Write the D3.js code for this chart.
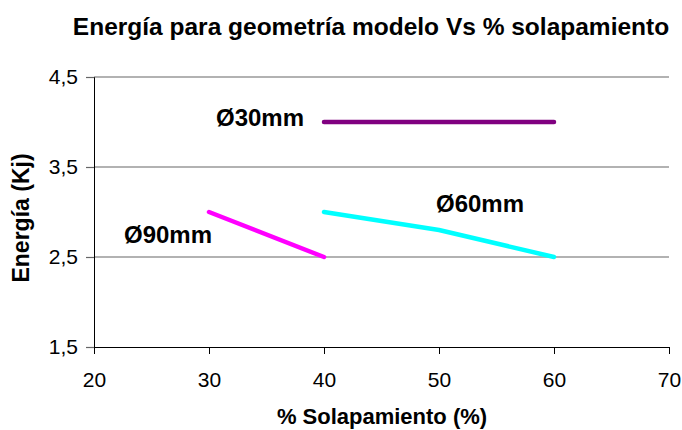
<!DOCTYPE html>
<html>
<head>
<meta charset="utf-8">
<script src="https://cdn.jsdelivr.net/npm/d3@7"></script>
<style>
  body { margin: 0; background: #fff; }
  svg { font-family: Arial, "Liberation Sans", sans-serif; }
</style>
</head>
<body>
<div id="chart"></div>
<script>
// datos
const xTicks = [20, 30, 40, 50, 60, 70];
const yTicks = [1.5, 2.5, 3.5, 4.5];

const x30 = [40, 50, 60];
const y30 = [4, 4, 4];
const x60 = [40, 50, 60];
const y60 = [3, 2.8, 2.5];
const x90 = [30, 40];
const y90 = [3, 2.5];

const series = [
  { label: 'Ø30mm', color: '#800080', xs: x30, ys: y30, lx: 216, ly: 126 },
  { label: 'Ø60mm', color: '#00ffff', xs: x60, ys: y60, lx: 436, ly: 212 },
  { label: 'Ø90mm', color: '#ff00ff', xs: x90, ys: y90, lx: 124, ly: 243 }
];

const width = 682, height = 430;
const mLeft = 94, mRight = 669, mTop = 77, mBottom = 347;
const FONT = 'Arial, "Liberation Sans", sans-serif';

const svg = d3.select('#chart').append('svg')
  .attr('width', width)
  .attr('height', height);

const x = d3.scaleLinear().domain([20, 70]).range([mLeft, mRight]);
const y = d3.scaleLinear().domain([1.5, 4.5]).range([mBottom, mTop]);

// lineas de cuadricula
svg.append('g')
  .selectAll('line')
  .data(yTicks.filter(d => d > 1.5))
  .enter()
  .append('line')
  .attr('x1', mLeft)
  .attr('x2', mRight)
  .attr('y1', d => y(d))
  .attr('y2', d => y(d))
  .attr('stroke', '#666')
  .attr('stroke-width', 1.2);

// eje Y
svg.append('g')
  .attr('transform', `translate(${mLeft},0)`)
  .call(d3.axisLeft(y).tickValues(yTicks).tickSize(8).tickPadding(8)
    .tickFormat(d => d3.format('.1f')(d).replace('.', ',')))
  .call(g => g.select('.domain').attr('stroke', '#000'))
  .call(g => g.selectAll('.tick line').attr('stroke', '#666').attr('stroke-width', 1.2))
  .call(g => g.selectAll('text').attr('font-size', 21).attr('fill', '#000').attr('font-family', FONT));

// eje X
svg.append('g')
  .attr('transform', `translate(0,${mBottom})`)
  .call(d3.axisBottom(x).tickValues(xTicks).tickSize(7).tickSizeOuter(0))
  .call(g => g.select('.domain').attr('stroke', '#000'))
  .call(g => g.selectAll('.tick line').attr('stroke', '#000'))
  .call(g => g.selectAll('text').attr('font-size', 21).attr('fill', '#000')
    .attr('y', 40).attr('dy', 0).attr('font-family', FONT));

// series
const line = d3.line().x(d => x(d[0])).y(d => y(d[1]));
series.forEach(s => {
  const pts = s.xs.map((v, i) => [v, s.ys[i]]);
  svg.append('path')
    .attr('d', line(pts))
    .attr('fill', 'none')
    .attr('stroke', s.color)
    .attr('stroke-width', 4.5)
    .attr('stroke-linecap', 'round')
    .attr('stroke-linejoin', 'round');

  svg.append('text')
    .attr('x', s.lx)
    .attr('y', s.ly)
    .attr('font-size', 24)
    .attr('font-weight', 'bold')
    .text(s.label);
});

// titulos
svg.append('text')
  .attr('x', 371)
  .attr('y', 35)
  .attr('text-anchor', 'middle')
  .attr('font-size', 24.5)
  .attr('font-weight', 'bold')
  .text('Energía para geometría modelo Vs % solapamiento');

svg.append('text')
  .attr('x', 382)
  .attr('y', 424)
  .attr('text-anchor', 'middle')
  .attr('font-size', 22)
  .attr('font-weight', 'bold')
  .text('% Solapamiento (%)');

svg.append('text')
  .attr('transform', `translate(29,218) rotate(-90)`)
  .attr('text-anchor', 'middle')
  .attr('font-size', 23)
  .attr('font-weight', 'bold')
  .text('Energía (Kj)');
</script>
</body>
</html>
